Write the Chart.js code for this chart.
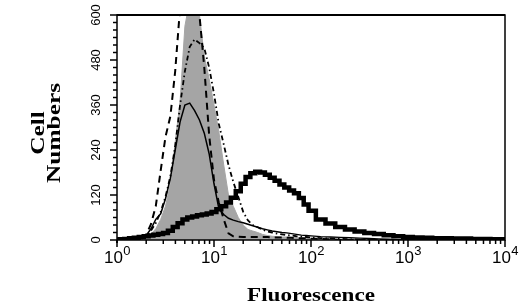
<!DOCTYPE html>
<html>
<head>
<meta charset="utf-8">
<script src="https://cdn.jsdelivr.net/npm/chart.js@4/dist/chart.umd.min.js"></script>
<style>
  html, body { margin: 0; padding: 0; background: #fff; }
  #wrap { width: 520px; height: 304px; }
</style>
</head>
<body>
<div id="wrap"><canvas id="histChart"></canvas></div>
<script>
// Canales de fluorescencia (escala log)
var channels = [1, 1.12, 1.26, 1.41, 1.58, 1.78, 2.0, 2.24, 2.51, 2.82,
  3.16, 3.55, 3.98, 4.47, 5.01, 5.62, 6.31, 7.08, 7.94, 8.91,
  10, 11.2, 12.6, 14.1, 15.8, 17.8, 20.0, 22.4, 25.1, 28.2,
  31.6, 35.5, 39.8, 44.7, 50.1, 56.2, 63.1, 70.8, 79.4, 89.1,
  100, 126, 158, 200, 251, 316, 398, 501, 631, 794,
  1000, 1259, 1585, 1995, 2512, 3162, 3981, 5012, 6310, 7943, 10000];

// Histogramas (Cell Numbers)
var grayFill = [0, 0, 0, 0, 0, 2, 5, 15, 30, 55,
  90, 150, 260, 370, 570, 640, 640, 600, 490, 430,
  360, 290, 200, 120, 90, 60, 40, 28, 24, 20,
  15, 12, 10, 9, 8, 8, 7, 6, 5, 4,
  4, 3, 2, 1, 0, 0, 0, 0, 0, 0,
  0, 0, 0, 0, 0, 0, 0, 0, 0, 0, 0];
var dashed = [0, 0, 0, 0, 2, 8, 15, 42, 90, 185,
  275, 330, 450, 620, 680, 700, 680, 600, 460, 280,
  160, 100, 55, 18, 10, 9, 8, 8, 8, 8,
  8, 8, 7, 7, 7, 6, 6, 5, 5, 5,
  4, 3, 2, 1, 0, 0, 0, 0, 0, 0,
  0, 0, 0, 0, 0, 0, 0, 0, 0, 0, 0];
var thinSolid = [0, 0, 0, 0, 1, 4, 12, 30, 55, 70,
  110, 165, 240, 315, 360, 365, 345, 320, 285, 230,
  150, 85, 68, 58, 53, 49, 46, 42, 38, 34,
  30, 27, 24, 22, 20, 19, 17, 15, 13, 12,
  11, 9, 8, 7, 6, 5, 4, 3, 2, 1,
  0, 0, 0, 0, 0, 0, 0, 0, 0, 0, 0];
var dashDot = [0, 0, 0, 0, 0, 3, 10, 25, 45, 75,
  115, 170, 250, 360, 450, 515, 535, 525, 512, 460,
  390, 310, 255, 200, 155, 115, 75, 52, 40, 34,
  28, 23, 20, 17, 15, 13, 12, 10, 9, 8,
  7, 5, 4, 3, 2, 1, 0, 0, 0, 0,
  0, 0, 0, 0, 0, 0, 0, 0, 0, 0, 0];
var thickSolid = [0, 2, 3, 5, 6, 8, 10, 12, 14, 16,
  19, 25, 35, 45, 55, 60, 63, 66, 68, 71,
  75, 82, 90, 100, 113, 130, 150, 168, 178, 182,
  180, 174, 166, 158, 148, 140, 132, 125, 112, 95,
  78, 55, 44, 35, 28, 23, 19, 16, 13, 10,
  8, 7, 6, 5, 5, 4, 4, 3, 3, 2, 2];

var yTicks = [0, 120, 240, 360, 480, 600];
var xDecades = ['0', '1', '2', '3', '4'];
var xTitle = 'Fluorescence';
var yTitle = ['Cell', 'Numbers'];

function pares(vals) {
  var out = [];
  for (var i = 0; i < channels.length; i++) out.push({ x: channels[i], y: vals[i] });
  return out;
}

var ejesPlugin = {
  id: 'ejes',
  afterDatasetsDraw: function (chart) {
    var ctx = chart.ctx, xs = chart.scales.x, ys = chart.scales.y, a = chart.chartArea;
    ctx.save();
    ctx.strokeStyle = '#000';
    ctx.fillStyle = '#000';
    // marco
    ctx.lineWidth = 1.5;
    ctx.strokeRect(a.left, a.top, a.right - a.left, a.bottom - a.top);
    ctx.lineWidth = 2;
    ctx.beginPath(); ctx.moveTo(a.left, a.top); ctx.lineTo(a.right, a.top); ctx.stroke();
    ctx.beginPath(); ctx.moveTo(a.left, a.bottom); ctx.lineTo(a.left, a.bottom + 3); ctx.stroke();

    // marcas eje y
    ctx.lineWidth = 1.5;
    for (var v = 0; v <= 600; v += 20) {
      var py = ys.getPixelForValue(v);
      var len = (v % 120 === 0) ? 7 : 4;
      ctx.beginPath(); ctx.moveTo(a.left - len, py); ctx.lineTo(a.left, py); ctx.stroke();
    }
    // etiquetas eje y (giradas)
    ctx.font = '13px "Liberation Sans", Arial, sans-serif';
    ctx.textAlign = 'center';
    ctx.textBaseline = 'middle';
    yTicks.forEach(function (t) {
      ctx.save();
      ctx.translate(96, ys.getPixelForValue(t));
      ctx.rotate(-Math.PI / 2);
      ctx.fillText(String(t), 0, 0);
      ctx.restore();
    });

    // marcas eje x (log)
    for (var d = 0; d < 4; d++) {
      for (var m = 1; m <= 9; m++) {
        var px = xs.getPixelForValue(m * Math.pow(10, d));
        var l = (m === 1) ? 7 : 4;
        ctx.beginPath(); ctx.moveTo(px, a.bottom); ctx.lineTo(px, a.bottom + l); ctx.stroke();
      }
    }
    var pxEnd = xs.getPixelForValue(10000);
    ctx.beginPath(); ctx.moveTo(pxEnd, a.bottom); ctx.lineTo(pxEnd, a.bottom + 7); ctx.stroke();

    // etiquetas eje x: 10 con exponente
    ctx.textBaseline = 'alphabetic';
    ctx.textAlign = 'left';
    xDecades.forEach(function (e, i) {
      var cx = xs.getPixelForValue(Math.pow(10, i));
      ctx.font = '17px "Liberation Sans", Arial, sans-serif';
      var wb = ctx.measureText('10').width;
      ctx.font = '13px "Liberation Sans", Arial, sans-serif';
      var we = ctx.measureText(e).width;
      var x0 = cx - (wb + we) / 2;
      ctx.font = '17px "Liberation Sans", Arial, sans-serif';
      ctx.fillText('10', x0, 263);
      ctx.font = '13px "Liberation Sans", Arial, sans-serif';
      ctx.fillText(e, x0 + wb + 0.5, 255);
    });

    // titulos
    ctx.font = 'bold 19px "Liberation Serif", "Times New Roman", serif';
    ctx.textAlign = 'center';
    var wT = ctx.measureText(xTitle).width;
    ctx.save();
    ctx.translate(311, 301);
    ctx.scale(128 / wT, 1);
    ctx.fillText(xTitle, 0, 0);
    ctx.restore();

    ctx.textBaseline = 'middle';
    var wN = ctx.measureText(yTitle[1]).width;
    ctx.save();
    ctx.translate(47, 133);
    ctx.rotate(-Math.PI / 2);
    ctx.scale(100 / wN, 1);
    ctx.fillText(yTitle[0], 0, -8);
    ctx.fillText(yTitle[1], 0, 8);
    ctx.restore();

    ctx.restore();
  }
};

var ctxHist = document.getElementById('histChart');
var config = {
  type: 'line',
  data: {
    datasets: [{
      data: pares(thickSolid),
      borderColor: '#000',
      borderWidth: 4.5,
      stepped: 'middle',
      pointRadius: 0,
      fill: false,
      order: 1
    }, {
      data: pares(thinSolid),
      borderColor: '#000',
      borderWidth: 1.5,
      pointRadius: 0,
      fill: false,
      order: 2
    }, {
      data: pares(dashDot),
      borderColor: '#000',
      borderWidth: 1.8,
      borderDash: [5, 3, 1.5, 3],
      pointRadius: 0,
      fill: false,
      order: 3
    }, {
      data: pares(dashed),
      borderColor: '#000',
      borderWidth: 2,
      borderDash: [7, 5],
      pointRadius: 0,
      fill: false,
      order: 4
    }, {
      data: pares(grayFill),
      borderColor: '#a5a5a5',
      backgroundColor: '#a5a5a5',
      borderWidth: 1,
      pointRadius: 0,
      fill: 'origin',
      order: 10
    }]
  },
  options: {
    responsive: true,
    maintainAspectRatio: false,
    animation: false,
    events: [],
    layout: { padding: { left: 117, right: 15, top: 15, bottom: 64 } },
    plugins: { legend: { display: false }, tooltip: { enabled: false } },
    scales: {
      x: { type: 'logarithmic', min: 1, max: 10000, display: false },
      y: { type: 'linear', min: 0, max: 600, display: false }
    }
  },
  plugins: [ejesPlugin]
};
window.myHist = new Chart(ctxHist, config);
</script>
</body>
</html>
